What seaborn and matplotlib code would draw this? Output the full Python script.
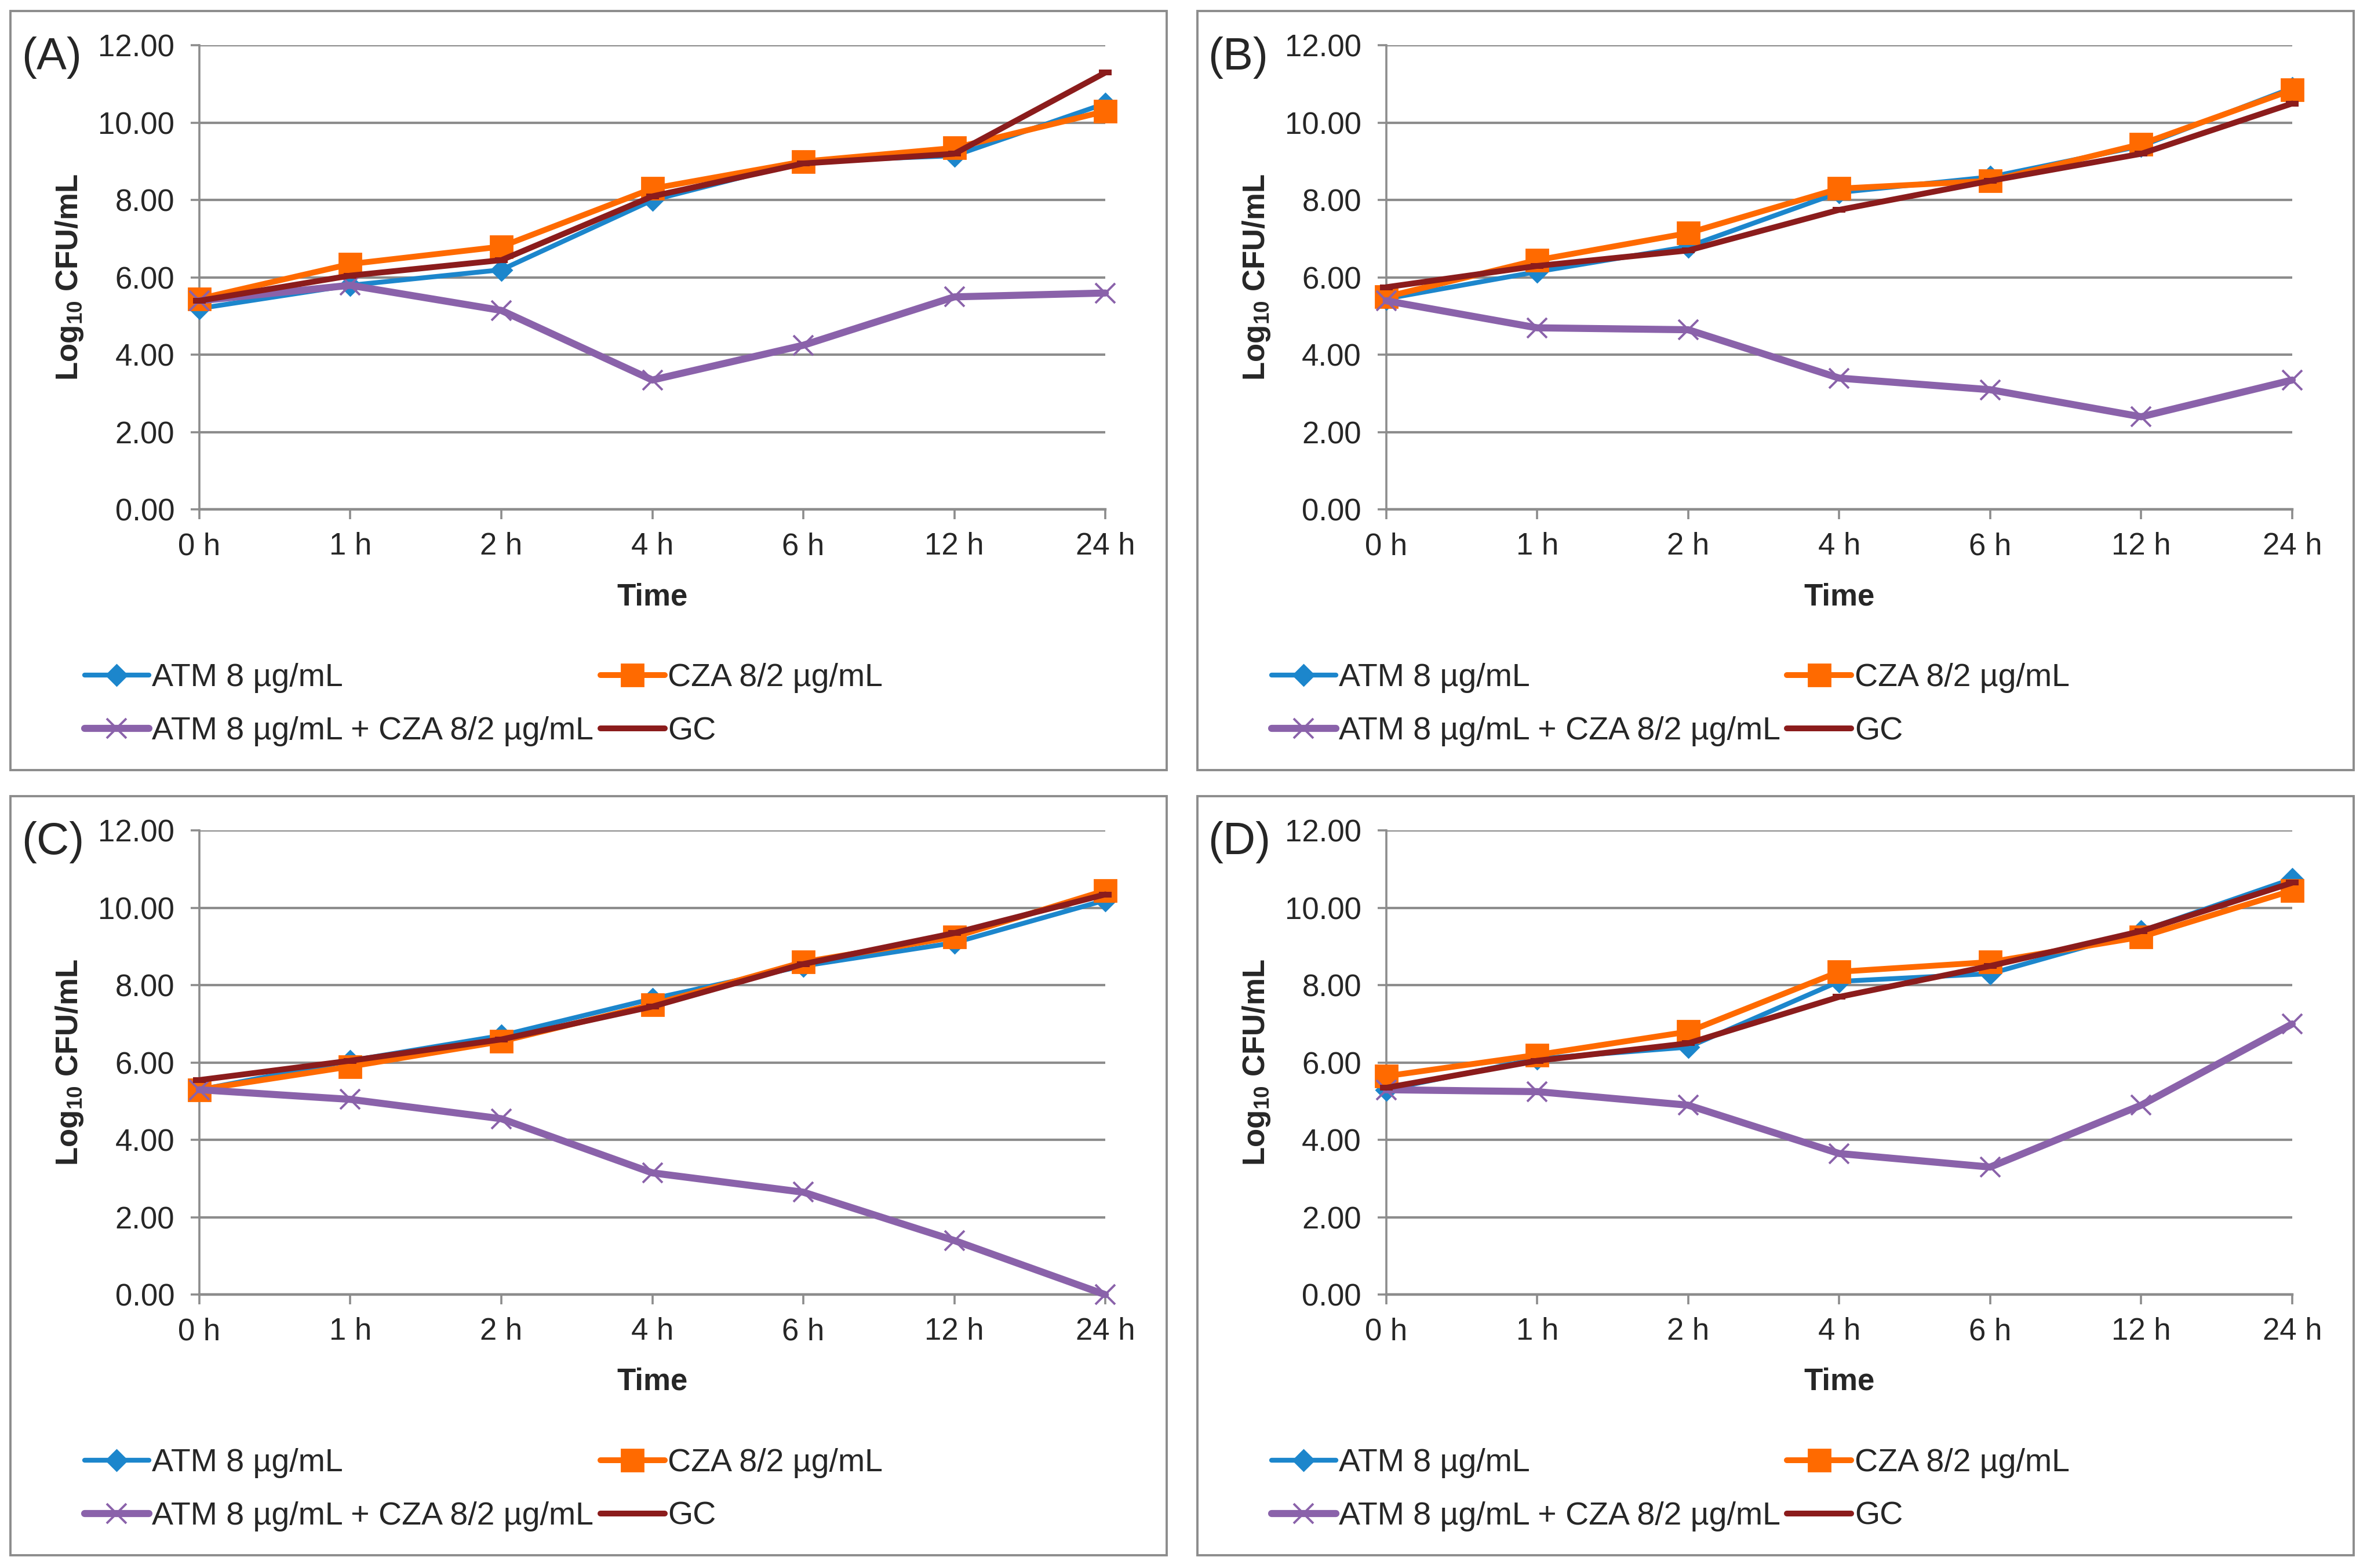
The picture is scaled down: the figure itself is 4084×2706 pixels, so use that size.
import matplotlib
matplotlib.use("Agg")
import matplotlib.pyplot as plt
import seaborn as sns
import numpy as np
from matplotlib.patches import Rectangle

# ---------------- data ----------------
time_labels = ["0 h", "1 h", "2 h", "4 h", "6 h", "12 h", "24 h"]
series_names = ["ATM 8 µg/mL", "CZA 8/2 µg/mL", "ATM 8 µg/mL + CZA 8/2 µg/mL", "GC"]
panel_labels = ["(A)", "(B)", "(C)", "(D)"]

atm_A = [5.20, 5.80, 6.20, 8.00, 9.00, 9.15, 10.50]
cza_A = [5.45, 6.35, 6.80, 8.30, 9.00, 9.35, 10.30]
combo_A = [5.40, 5.80, 5.15, 3.35, 4.25, 5.50, 5.60]
gc_A = [5.40, 6.05, 6.45, 8.10, 8.95, 9.20, 11.30]

atm_B = [5.45, 6.15, 6.80, 8.20, 8.60, 9.40, 10.90]
cza_B = [5.50, 6.45, 7.15, 8.30, 8.50, 9.45, 10.85]
combo_B = [5.40, 4.70, 4.65, 3.40, 3.10, 2.40, 3.35]
gc_B = [5.75, 6.30, 6.70, 7.75, 8.50, 9.20, 10.50]

atm_C = [5.30, 6.05, 6.70, 7.65, 8.50, 9.10, 10.20]
cza_C = [5.30, 5.90, 6.55, 7.50, 8.60, 9.25, 10.45]
combo_C = [5.30, 5.05, 4.55, 3.15, 2.65, 1.40, 0.00]
gc_C = [5.55, 6.05, 6.60, 7.45, 8.55, 9.35, 10.35]

atm_D = [5.30, 6.10, 6.40, 8.10, 8.30, 9.40, 10.75]
cza_D = [5.65, 6.20, 6.80, 8.35, 8.60, 9.25, 10.45]
combo_D = [5.30, 5.25, 4.90, 3.65, 3.30, 4.90, 7.00]
gc_D = [5.35, 6.05, 6.50, 7.70, 8.50, 9.40, 10.65]

panels = [
    [atm_A, cza_A, combo_A, gc_A],
    [atm_B, cza_B, combo_B, gc_B],
    [atm_C, cza_C, combo_C, gc_C],
    [atm_D, cza_D, combo_D, gc_D],
]

y_ticks = [0, 2, 4, 6, 8, 10, 12]

# ---------------- style ----------------
sns.set_style("white")
plt.rcParams["font.family"] = ["Liberation Sans", "DejaVu Sans"]
plt.rcParams["mathtext.fontset"] = "custom"
plt.rcParams["mathtext.rm"] = "Liberation Sans"
plt.rcParams["mathtext.bf"] = "Liberation Sans:bold"

colors = ["#1C86CC", "#FF6A00", "#8A62AA", "#8B1C1C"]
markers = ["D", "s", "x", "_"]
msizes = [9, 14, 12, 8]
mews = [1, 1, 1.4, 3.6]
lws = [3.0, 3.6, 4.4, 3.6]

grid_c = "#8C8C8C"
fs = 19

fig = plt.figure(figsize=(20.42, 13.53), dpi=200)

dx, dy = 0.5014, 0.5007
base_ax = [0.0842, 0.675, 0.3828, 0.296]   # panel A plot rect
base_frame = [0.0044, 0.509, 0.4885, 0.484]

x = np.arange(len(time_labels))

for i, data in enumerate(panels):
    col, row = i % 2, i // 2
    ox, oy = col * dx, -row * dy
    # panel frame
    fig.add_artist(Rectangle((base_frame[0] + ox, base_frame[1] + oy), base_frame[2], base_frame[3],
                             transform=fig.transFigure, fill=False, edgecolor="#8C8C8C", linewidth=1.4))
    ax = fig.add_axes([base_ax[0] + ox, base_ax[1] + oy, base_ax[2], base_ax[3]])
    for j, vals in enumerate(data):
        sns.lineplot(x=x, y=vals, ax=ax, color=colors[j], marker=markers[j], markersize=msizes[j],
                     markeredgecolor=colors[j], markeredgewidth=mews[j], linewidth=lws[j],
                     label=series_names[j], zorder=3 + j, clip_on=False)
    ax.set_xlim(0, 6)
    ax.set_ylim(0, 12)
    ax.set_xticks(x)
    ax.set_xticklabels(time_labels)
    ax.set_yticks(y_ticks)
    ax.set_yticklabels([f"{v:.2f}" for v in y_ticks])
    ax.yaxis.grid(True, color=grid_c, linewidth=1.5)
    ax.xaxis.grid(False)
    ax.set_axisbelow(True)
    for s in ["top", "right"]:
        ax.spines[s].set_visible(False)
    ax.spines["left"].set_color(grid_c)
    ax.spines["left"].set_linewidth(1.3)
    ax.spines["bottom"].set_color(grid_c)
    ax.spines["bottom"].set_linewidth(1.6)
    ax.tick_params(axis="x", direction="out", length=6, width=1.3, color=grid_c,
                   labelsize=fs, pad=8, bottom=True)
    ax.tick_params(axis="y", direction="out", length=5.4, width=1.3, color=grid_c,
                   labelsize=fs, pad=10, left=True)
    ax.set_xlabel("Time", fontsize=fs, fontweight="bold")
    ax.xaxis.set_label_coords(0.5, -0.188)
    ax.xaxis.label.set_va("center")
    ax.set_ylabel(r"Log$_{\mathbf{10}}$ CFU/mL", fontsize=fs, fontweight="bold")
    ax.yaxis.set_label_coords(-0.143, 0.5)
    ax.yaxis.label.set_va("center")
    fig.text(0.009 + ox, 0.9634 + oy, panel_labels[i], fontsize=28, ha="left", va="center")

    h, l = ax.get_legend_handles_labels()
    order = [0, 2, 1, 3]
    ax.legend([h[k] for k in order], [l[k] for k in order], ncol=2, loc="center left",
              bbox_to_anchor=(0.0357 + ox, 0.5506 + oy), bbox_transform=fig.transFigure,
              frameon=False, fontsize=20, handlelength=2.0, handletextpad=0.1,
              columnspacing=0.2, labelspacing=0.72, borderpad=0, borderaxespad=0)

fig.savefig("out.png", dpi=200)
